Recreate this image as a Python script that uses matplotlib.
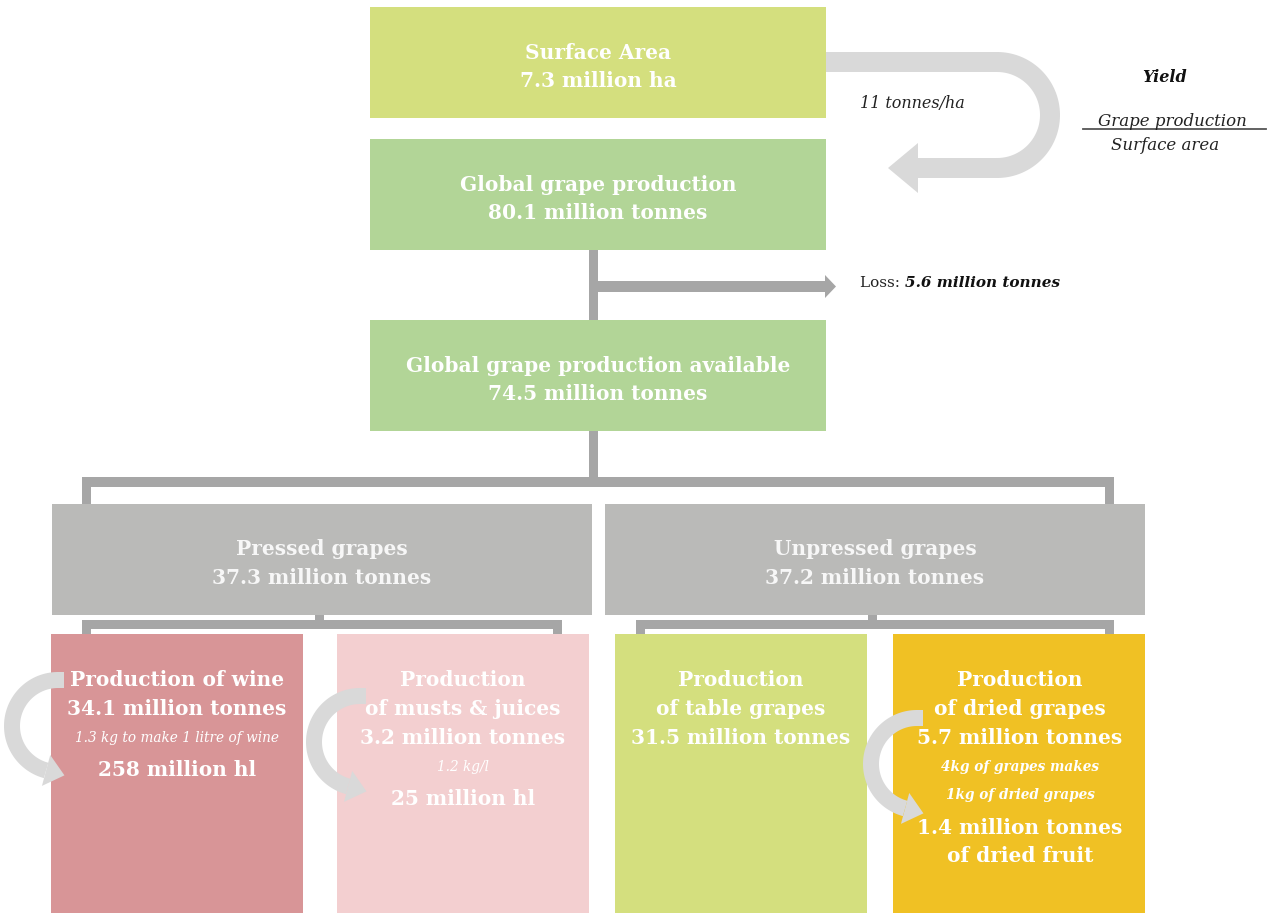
import numpy as np
import matplotlib.pyplot as plt
from matplotlib.patches import Rectangle, Polygon

plt.rcParams['font.family'] = ['DejaVu Serif']

# values (million tonnes unless noted)
surface_area = 7.3      # million ha
production = 80.1
available = 74.5
loss = 5.6
yield_t_ha = 11
pressed = 37.3
unpressed = 37.2
wine_t, wine_hl, wine_kg_l = 34.1, 258, 1.3
musts_t, musts_hl, musts_kg_l = 3.2, 25, 1.2
table_t = 31.5
dried_t, dried_fruit, dried_ratio = 5.7, 1.4, 4

W, H = 1272, 913
fig = plt.figure(figsize=(W / 100, H / 100), dpi=100)
ax = fig.add_axes([0, 0, 1, 1])
ax.set_xlim(0, W)
ax.set_ylim(H, 0)
ax.axis('off')

CONN = '#a6a6a6'
ARC = '#d9d9d9'
WHITE = 'white'


def box(x0, y0, x1, y1, color):
    ax.add_patch(Rectangle((x0, y0), x1 - x0, y1 - y0, facecolor=color, edgecolor='none', zorder=2))


def bar(x0, y0, x1, y1):
    ax.add_patch(Rectangle((x0, y0), x1 - x0, y1 - y0, facecolor=CONN, edgecolor='none', zorder=1))


def lines(cx, items, color=WHITE):
    for y, s, size, weight, style in items:
        ax.text(cx, y, s, ha='center', va='center', fontsize=size, fontweight=weight,
                fontstyle=style, color=color, zorder=5)


def curl(cx, cy, r, start_x, width=16, head_len=19, head_w=16):
    # arc going left from the top, around, ending pointing right
    t = np.radians(np.linspace(-90, -255, 80))
    xs = cx + r * np.cos(t)
    ys = cy + r * np.sin(t)
    xs = np.concatenate([[start_x], xs])
    ys = np.concatenate([[cy - r], ys])
    ax.plot(xs, ys, color=ARC, lw=width * 0.72, solid_capstyle='butt', zorder=4)
    te = t[-1]
    d = np.array([np.sin(te), -np.cos(te)])
    n = np.array([-d[1], d[0]])
    e = np.array([xs[-1], ys[-1]])
    tip = e + head_len * d
    ax.add_patch(Polygon([e + head_w * n, e - head_w * n, tip], closed=True,
                         facecolor=ARC, edgecolor='none', zorder=4))


# connectors
bar(589, 250, 598, 320)
bar(589, 281, 825, 292)
ax.add_patch(Polygon([(825, 275), (825, 298), (836, 286.5)], closed=True, facecolor=CONN,
                     edgecolor='none', zorder=1))
bar(589, 431, 598, 487)
bar(82, 477, 1114, 487)
bar(82, 477, 91, 504)
bar(1105, 477, 1114, 504)
# pressed branch
bar(315, 615, 324, 629)
bar(82, 620, 562, 629)
bar(82, 620, 91, 634)
bar(553, 620, 562, 634)
# unpressed branch
bar(868, 615, 877, 629)
bar(636, 620, 1114, 629)
bar(636, 620, 645, 634)
bar(1105, 620, 1114, 634)

# boxes
box(370, 7, 826, 118, '#d4df7e')
box(370, 139, 826, 250, '#b2d597')
box(370, 320, 826, 431, '#b2d597')
box(52, 504, 592, 615, '#babab8')
box(605, 504, 1145, 615, '#babab8')
box(51, 634, 303, 913, '#d89597')
box(337, 634, 589, 913, '#f3cfd0')
box(615, 634, 867, 913, '#d4df7e')
box(893, 634, 1145, 913, '#f0c124')

# yield U-turn arrow
t = np.radians(np.linspace(-90, 90, 100))
ux = np.concatenate([[826], 997 + 53 * np.cos(t), [918]])
uy = np.concatenate([[62], 115 + 53 * np.sin(t), [168]])
ax.plot(ux, uy, color=ARC, lw=20 * 0.72, solid_capstyle='butt', zorder=1)
ax.add_patch(Polygon([(918, 143), (918, 193), (888, 168)], closed=True, facecolor=ARC,
                     edgecolor='none', zorder=1))

# curls in the bottom boxes
curl(58, 726, 46, 64)
curl(360, 742, 46, 366)
curl(917, 764, 46, 923)

B = 14.5
S = 9.8
lines(598, [(53, 'Surface Area', B, 'bold', 'normal'),
            (81, f'{surface_area} million ha', B, 'bold', 'normal')])
lines(598, [(185, 'Global grape production', B, 'bold', 'normal'),
            (213, f'{production} million tonnes', B, 'bold', 'normal')])
lines(598, [(366, 'Global grape production available', B, 'bold', 'normal'),
            (394, f'{available} million tonnes', B, 'bold', 'normal')])
lines(322, [(549, 'Pressed grapes', B, 'bold', 'normal'),
            (578, f'{pressed} million tonnes', B, 'bold', 'normal')], color='#f7f7f7')
lines(875, [(549, 'Unpressed grapes', B, 'bold', 'normal'),
            (578, f'{unpressed} million tonnes', B, 'bold', 'normal')], color='#f7f7f7')
lines(177, [(680, 'Production of wine', B, 'bold', 'normal'),
            (709, f'{wine_t} million tonnes', B, 'bold', 'normal'),
            (738, f'{wine_kg_l} kg to make 1 litre of wine', S, 'normal', 'italic'),
            (770, f'{wine_hl} million hl', B, 'bold', 'normal')])
lines(463, [(680, 'Production', B, 'bold', 'normal'),
            (709, 'of musts & juices', B, 'bold', 'normal'),
            (738, f'{musts_t} million tonnes', B, 'bold', 'normal'),
            (767, f'{musts_kg_l} kg/l', S, 'normal', 'italic'),
            (799, f'{musts_hl} million hl', B, 'bold', 'normal')])
lines(741, [(680, 'Production', B, 'bold', 'normal'),
            (709, 'of table grapes', B, 'bold', 'normal'),
            (738, f'{table_t} million tonnes', B, 'bold', 'normal')])
lines(1020, [(680, 'Production', B, 'bold', 'normal'),
             (709, 'of dried grapes', B, 'bold', 'normal'),
             (738, f'{dried_t} million tonnes', B, 'bold', 'normal'),
             (767, f'{dried_ratio}kg of grapes makes', S, 'bold', 'italic'),
             (795, '1kg of dried grapes', S, 'bold', 'italic'),
             (828, f'{dried_fruit} million tonnes', B, 'bold', 'normal'),
             (856, 'of dried fruit', B, 'bold', 'normal')])

# yield note
ax.text(860, 104, f'{yield_t_ha} tonnes/ha', ha='left', va='center', fontsize=11.5,
        fontstyle='italic', color='#222222')
ax.text(1165, 77, 'Yield', ha='center', va='center', fontsize=11.5, fontweight='bold',
        fontstyle='italic', color='#111111')
ax.text(1172, 122, 'Grape production', ha='center', va='center', fontsize=12,
        fontstyle='italic', color='#222222')
ax.plot([1083, 1266], [129, 129], color='#555555', lw=1.3)
ax.text(1165, 145, 'Surface area', ha='center', va='center', fontsize=12,
        fontstyle='italic', color='#222222')

# loss note
t1 = ax.text(860, 283, 'Loss: ', ha='left', va='center', fontsize=11, color='#222222')
fig.canvas.draw()
bb = t1.get_window_extent(fig.canvas.get_renderer())
x_end = ax.transData.inverted().transform((bb.x1, bb.y0))[0]
ax.text(x_end, 283, f'{loss} million tonnes', ha='left', va='center', fontsize=11,
        fontweight='bold', fontstyle='italic', color='#111111')

fig.savefig('out.png', dpi=100)
